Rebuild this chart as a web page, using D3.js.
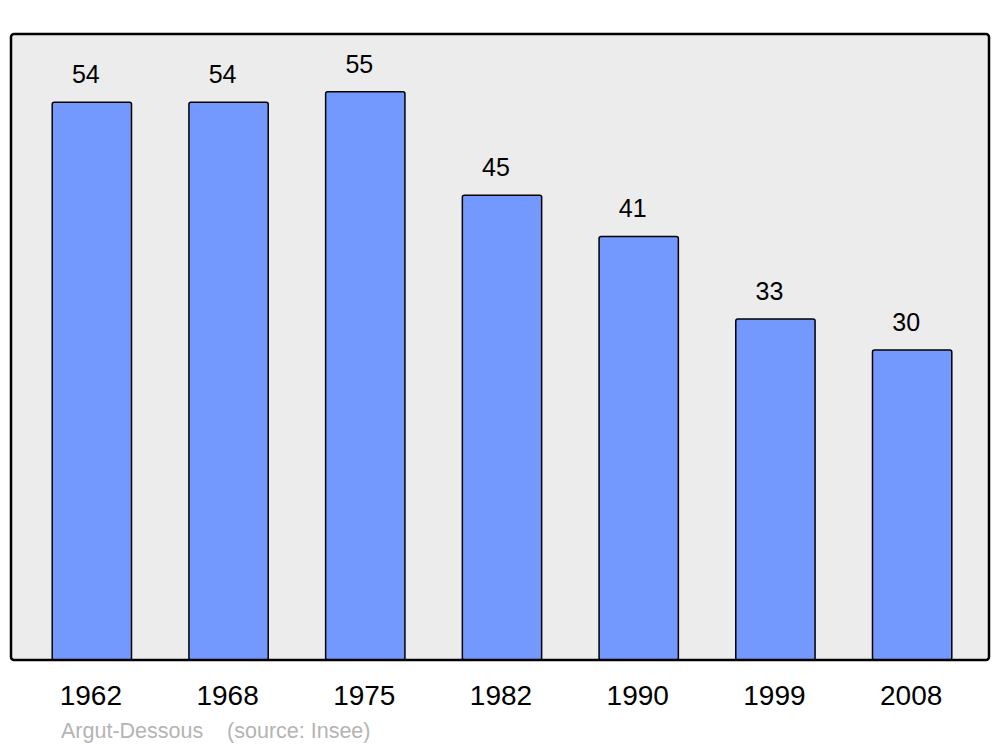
<!DOCTYPE html>
<html lang="fr">
<head>
<meta charset="UTF-8">
<script src="https://d3js.org/d3.v7.min.js"></script>
<style>
  body { margin: 0; background: #fff; }
  text { font-family: "Liberation Sans", Arial, sans-serif; }
</style>
</head>
<body>
<svg width="1000" height="747"></svg>
<script>
var years = ["1962", "1968", "1975", "1982", "1990", "1999", "2008"];
var population = [54, 54, 55, 45, 41, 33, 30];
var footer = ["Argut-Dessous", "(source: Insee)"];

var svg = d3.select("svg");
var frame = {left: 11, right: 989, top: 34, bottom: 660};

var x = d3.scaleBand()
    .domain(years)
    .range([23.5, 980.5])
    .paddingInner(0.42)
    .paddingOuter(0.21);

var y = d3.scaleLinear()
    .domain([0, 60.6])
    .range([frame.bottom, frame.top]);

// plot background
svg.append("rect")
    .attr("x", frame.left)
    .attr("y", frame.top)
    .attr("width", frame.right - frame.left)
    .attr("height", frame.bottom - frame.top)
    .attr("rx", 3)
    .attr("fill", "#ececec");

// bars
svg.selectAll("rect.bar")
    .data(population)
    .enter()
    .append("rect")
    .attr("class", "bar")
    .attr("x", function(d, i) { return x(years[i]); })
    .attr("y", function(d) { return y(d); })
    .attr("width", x.bandwidth())
    .attr("height", function(d) { return y(0) - y(d); })
    .attr("rx", 2)
    .attr("fill", "#7399ff")
    .attr("stroke", "#000")
    .attr("stroke-width", 1.5);

// frame on top
svg.append("rect")
    .attr("x", frame.left)
    .attr("y", frame.top)
    .attr("width", frame.right - frame.left)
    .attr("height", frame.bottom - frame.top)
    .attr("rx", 3)
    .attr("fill", "none")
    .attr("stroke", "#000")
    .attr("stroke-width", 2.5);

// values
svg.selectAll("text.val")
    .data(population)
    .enter()
    .append("text")
    .attr("class", "val")
    .attr("x", function(d, i) { return x(years[i]) + x.bandwidth() / 2 - 6; })
    .attr("y", function(d) { return y(d) - 19; })
    .attr("text-anchor", "middle")
    .attr("font-size", 25)
    .text(function(d) { return d; });

// year labels
svg.selectAll("text.year")
    .data(years)
    .enter()
    .append("text")
    .attr("class", "year")
    .attr("x", function(d) { return x(d) + x.bandwidth() / 2 - 1; })
    .attr("y", 705)
    .attr("text-anchor", "middle")
    .attr("font-size", 28)
    .text(function(d) { return d; });

// footer
svg.append("text")
    .attr("x", 61)
    .attr("y", 738)
    .attr("font-size", 21.5)
    .attr("fill", "#b4b4b4")
    .attr("xml:space", "preserve")
    .text(footer[0] + "    " + footer[1]);
</script>
</body>
</html>
